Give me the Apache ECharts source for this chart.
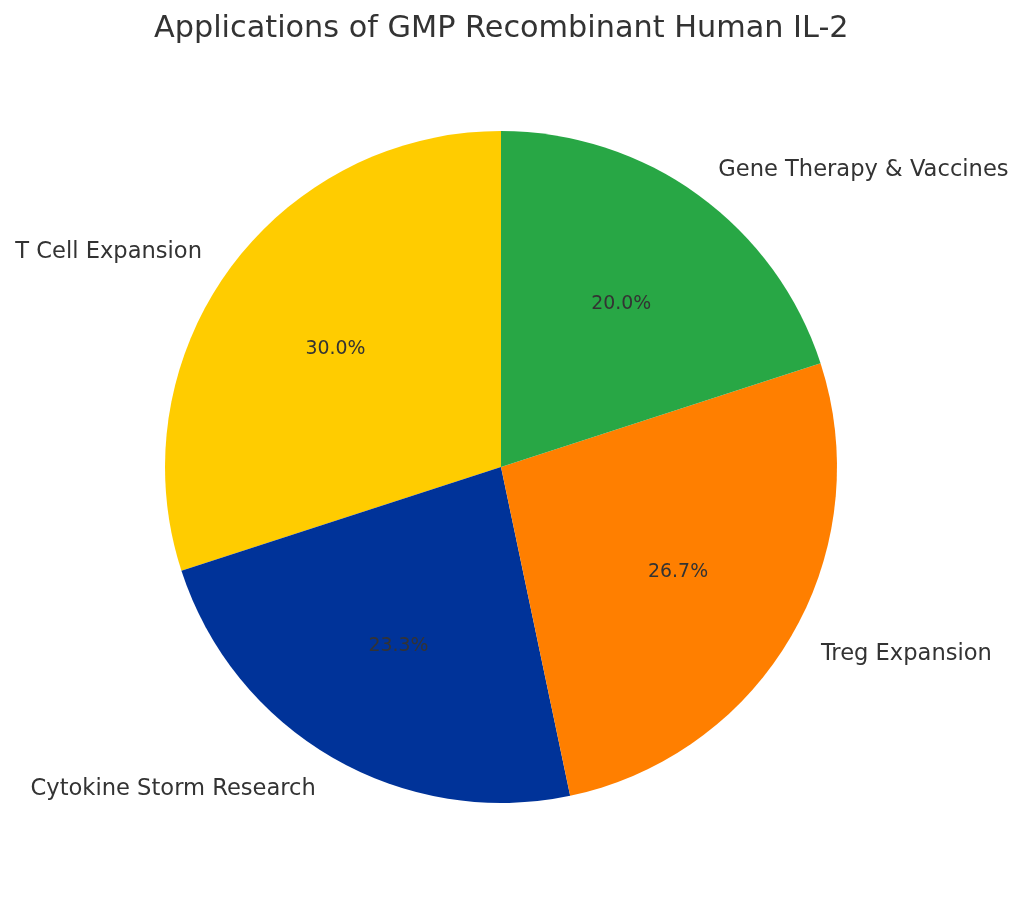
<!DOCTYPE html>
<html>
<head>
<meta charset="utf-8">
<script src="https://cdn.jsdelivr.net/npm/echarts@6/dist/echarts.min.js"></script>
<style>
  html, body { margin: 0; padding: 0; background: #fff; }
  #main { width: 1024px; height: 902px; }
</style>
</head>
<body>
<div id="main"></div>
<script>
// 数据
var categories = ['T Cell Expansion', 'Cytokine Storm Research', 'Treg Expansion', 'Gene Therapy & Vaccines'];
var shares = [30, 23.3, 26.7, 20];
var colors = ['#FFCC00', '#003399', '#FF7F00', '#28A745'];

var R = 336; // 饼图半径
var font = 'DejaVu Sans';

var pieData = [];
for (var i = 0; i < categories.length; i++) {
    pieData.push({
        name: categories[i],
        value: shares[i],
        itemStyle: { color: colors[i] }
    });
}

var myChart = echarts.init(document.getElementById('main'));
var option = {
    backgroundColor: '#fff',
    animation: false,
    title: {
        text: 'Applications of GMP Recombinant Human IL-2',
        left: 149,
        top: 9,
        textStyle: { fontFamily: font, fontSize: 30.3, fontWeight: 'normal', color: '#333' }
    },
    series: [
        {
            // 扇区 + 外部类别标签
            type: 'pie',
            center: [501, 467],
            radius: [0, R],
            startAngle: 90,
            clockwise: false,
            avoidLabelOverlap: false,
            data: pieData,
            label: {
                show: true,
                position: 'outside',
                formatter: '{t|{b}}',
                distanceToLabelLine: 0,
                rich: {
                    t: { fontFamily: font, fontSize: 22.6, color: '#333', padding: [4, 0, 0, 0] }
                }
            },
            labelLine: { show: false, length: R * 0.1, length2: 0 },
            emphasis: { disabled: true }
        },
        {
            // 百分比标签 (0.6R)
            type: 'pie',
            center: [501, 467],
            radius: [R * 0.2, R],
            startAngle: 90,
            clockwise: false,
            avoidLabelOverlap: false,
            silent: true,
            data: pieData.map(function (d) {
                return { name: d.name, value: d.value, itemStyle: { color: 'transparent' } };
            }),
            label: {
                show: true,
                position: 'inside',
                formatter: function (p) { return '{t|' + p.percent.toFixed(1) + '%}'; },
                rich: {
                    t: { fontFamily: font, fontSize: 18.9, color: '#333', padding: [5, 0, 0, 0] }
                }
            },
            labelLine: { show: false }
        }
    ]
};
myChart.setOption(option);
</script>
</body>
</html>
